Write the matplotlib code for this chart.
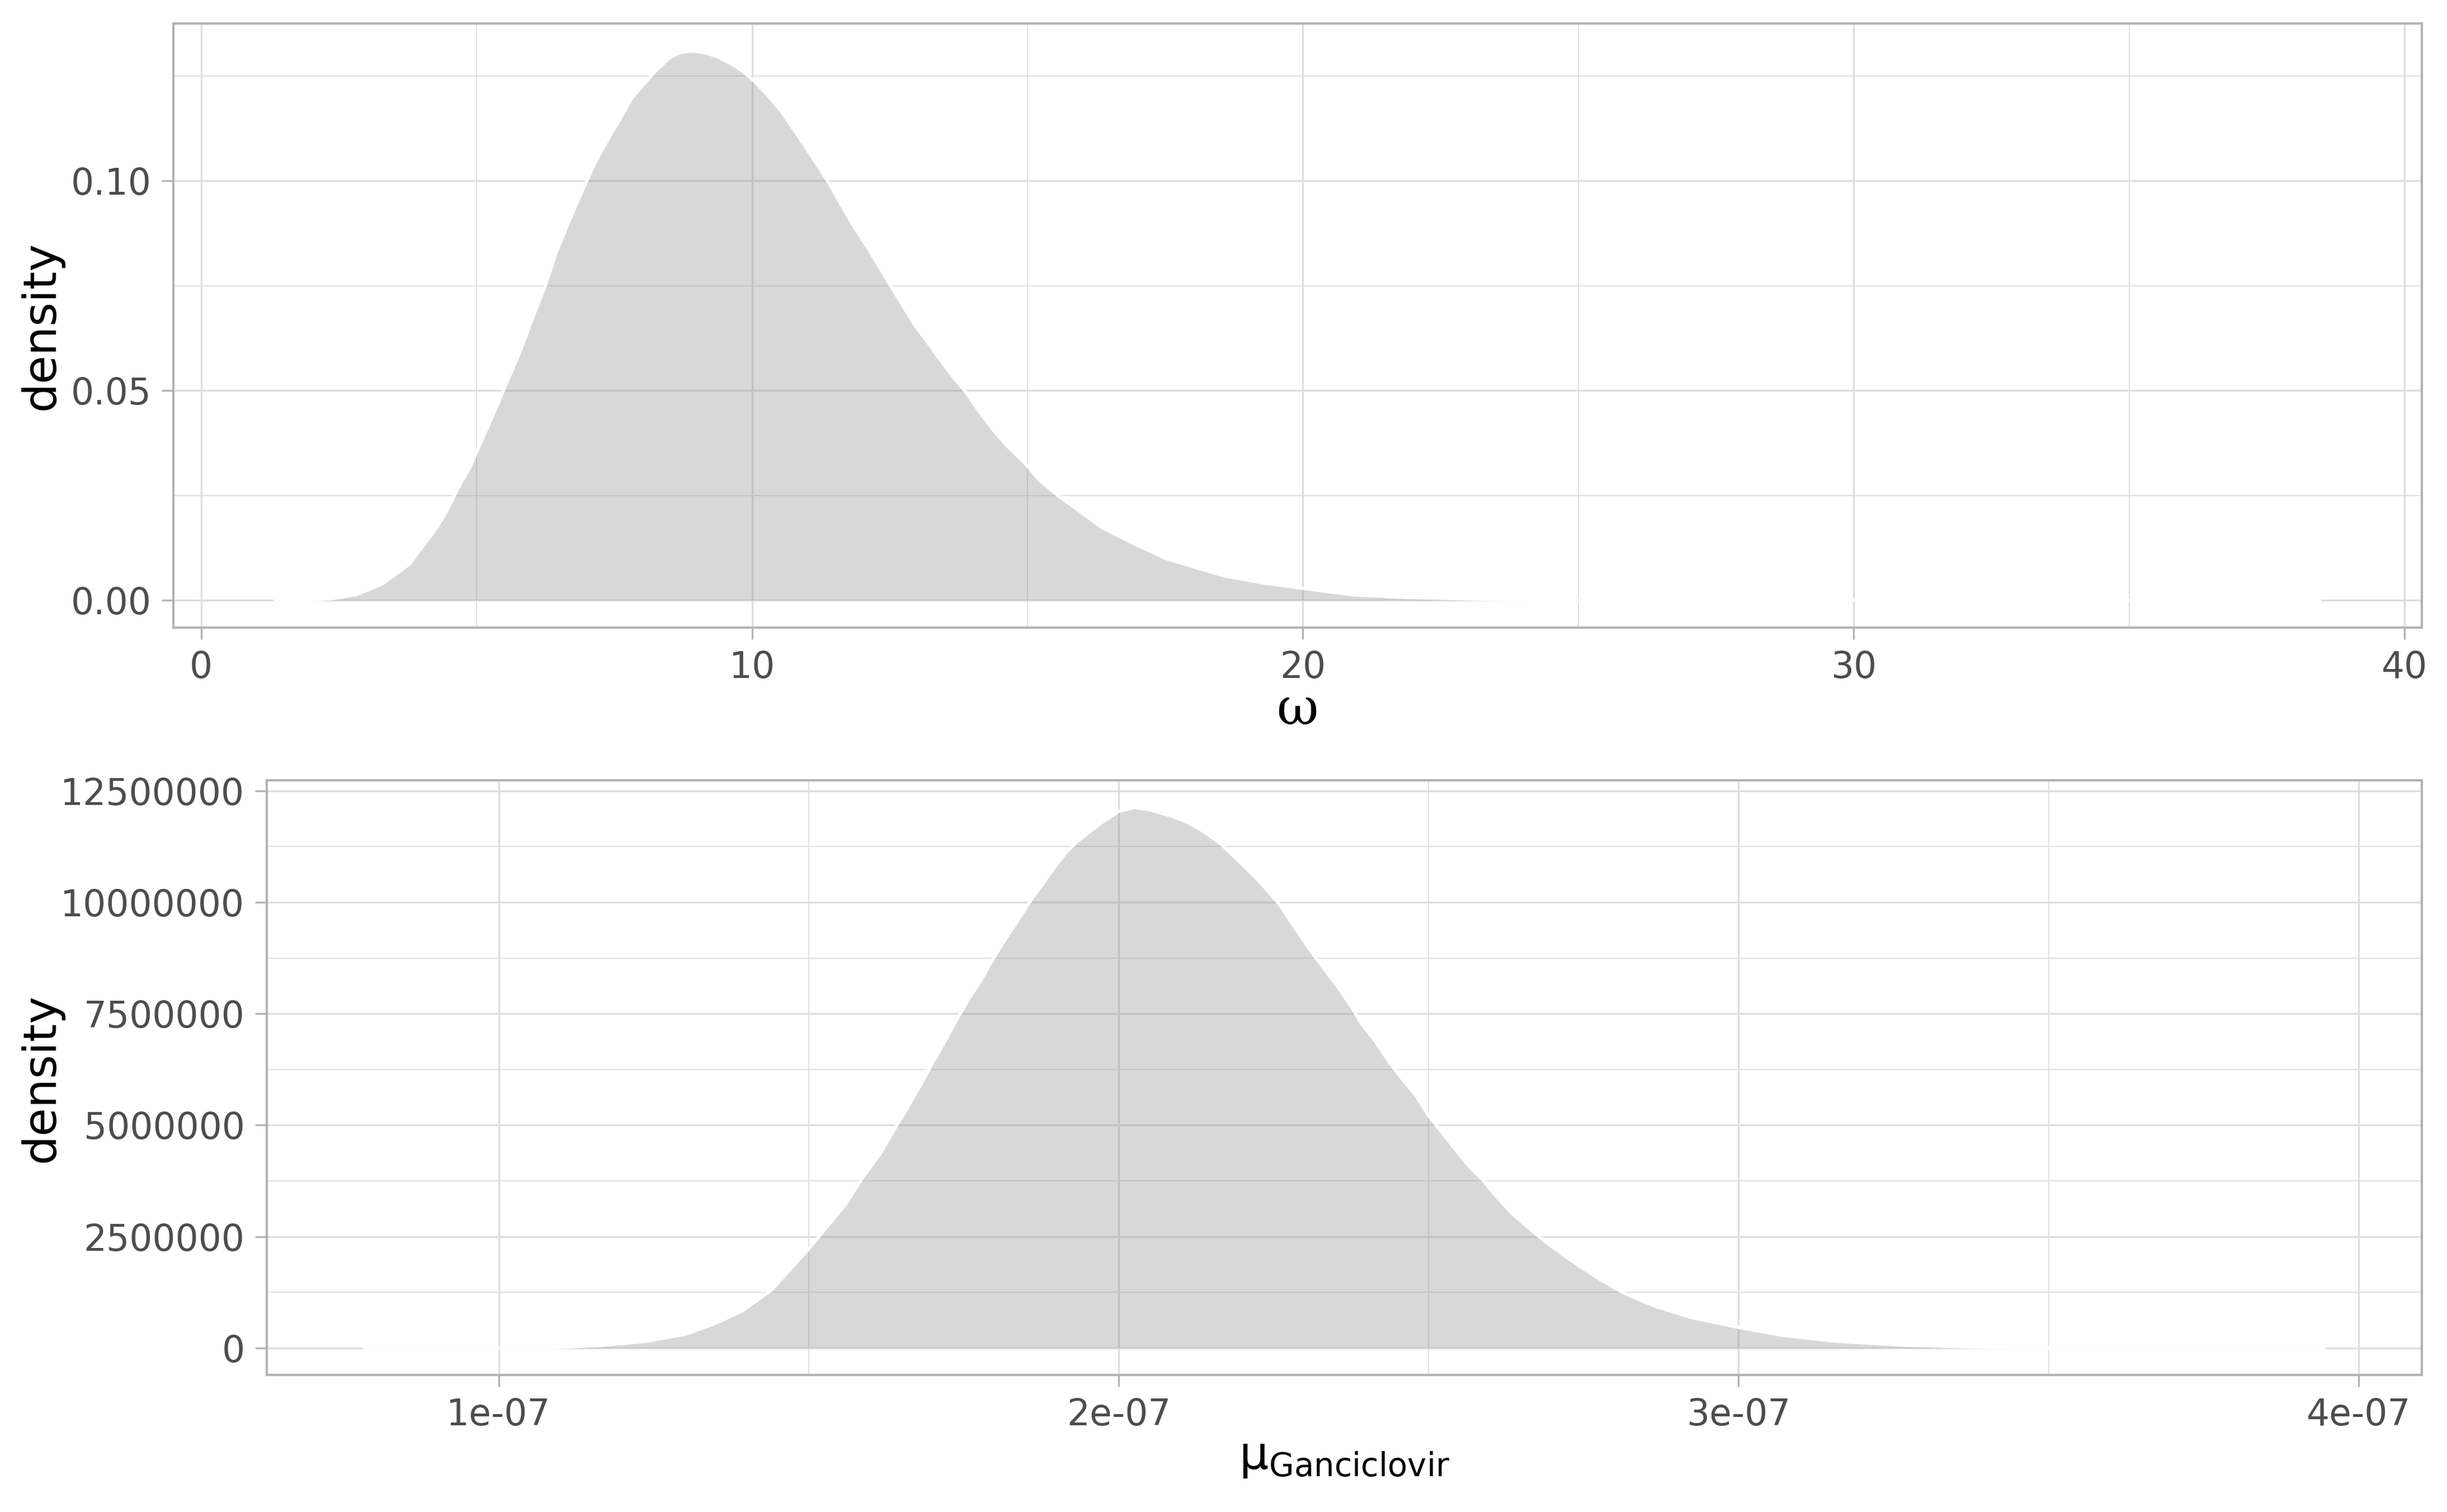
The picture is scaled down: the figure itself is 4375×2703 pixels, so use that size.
import matplotlib
matplotlib.use("Agg")
import matplotlib.pyplot as plt
from matplotlib.ticker import FixedLocator, FuncFormatter

# omega posterior density
omega_x = [1.35, 1.98, 2.4, 2.81, 3.29, 3.78, 4.02, 4.26, 4.46, 4.65, 4.89,
           5.14, 5.33, 5.57, 5.80, 6.01, 6.25, 6.45, 6.67, 6.90, 7.14,
           7.37, 7.61, 7.81, 8.03, 8.24, 8.49, 8.68, 8.92, 9.17, 9.41,
           9.65, 9.84, 10.04, 10.28, 10.52, 10.72, 10.96, 11.17, 11.40, 11.62,
           11.85, 12.08, 12.32, 12.51, 12.73, 12.95, 13.19, 13.39, 13.63, 13.87,
           14.12, 14.36, 14.60, 15.0, 15.21, 15.55, 15.94, 16.33, 16.82, 17.50,
           17.98, 18.56, 19.24, 20.0, 20.89, 21.86, 23.22, 24.2, 38.46]
omega_y = [0, 0, 0.0004, 0.0013, 0.0039, 0.0086, 0.0128, 0.0170, 0.0213, 0.0264, 0.0320,
           0.0395, 0.0451, 0.0526, 0.0596, 0.0671, 0.0751, 0.0831, 0.0901, 0.0971, 0.1041,
           0.1096, 0.1149, 0.1196, 0.1230, 0.1261, 0.1292, 0.1306, 0.1310, 0.1305, 0.1294,
           0.1277, 0.1261, 0.1238, 0.1205, 0.1168, 0.1130, 0.1083, 0.1041, 0.0994, 0.0943,
           0.0891, 0.0845, 0.0793, 0.0751, 0.0704, 0.0657, 0.0615, 0.0578, 0.0536, 0.0498,
           0.0451, 0.0409, 0.0372, 0.0320, 0.0287, 0.0250, 0.0213, 0.0175, 0.0142, 0.0100,
           0.0081, 0.0058, 0.0042, 0.0028, 0.0013, 0.00066, 0.0002, 0, 0]

# mu_Ganciclovir posterior density (x in 1e-7, density in 1e6)
mu_x = [0.784, 1.081, 1.164, 1.237, 1.302, 1.348, 1.394, 1.440, 1.474, 1.500,
        1.534, 1.560, 1.586, 1.616, 1.638, 1.659, 1.681, 1.698, 1.716, 1.737,
        1.759, 1.776, 1.797, 1.819, 1.836, 1.858, 1.879, 1.897, 1.914, 1.933,
        1.953, 1.974, 2.000, 2.026, 2.052, 2.086, 2.112, 2.138, 2.164, 2.194,
        2.220, 2.237, 2.259, 2.276, 2.293, 2.315, 2.336, 2.353, 2.375, 2.392,
        2.414, 2.435, 2.457, 2.478, 2.500, 2.523, 2.545, 2.566, 2.588, 2.609,
        2.635, 2.661, 2.691, 2.726, 2.769, 2.812, 2.864, 2.924, 3.000, 3.071,
        3.157, 3.269, 3.398, 3.467, 3.944]
mu_y = [0, 0, 0.056, 0.146, 0.31, 0.54, 0.84, 1.30, 1.82, 2.22,
        2.79, 3.23, 3.80, 4.37, 4.90, 5.38, 5.91, 6.35, 6.79, 7.32,
        7.85, 8.20, 8.72, 9.21, 9.56, 10.04, 10.44, 10.79, 11.10, 11.36,
        11.58, 11.80, 12.04, 12.13, 12.07, 11.93, 11.79, 11.58, 11.32, 10.92,
        10.57, 10.31, 9.96, 9.60, 9.25, 8.81, 8.42, 8.11, 7.67, 7.27,
        6.88, 6.44, 6.04, 5.69, 5.21, 4.81, 4.42, 4.06, 3.76, 3.40,
        3.01, 2.70, 2.35, 2.00, 1.60, 1.25, 0.94, 0.68, 0.46, 0.28,
        0.15, 0.06, 0.01, 0, 0]
mu_x = [v * 1e-7 for v in mu_x]
mu_y = [v * 1e6 for v in mu_y]

omega_xticks = [0, 10, 20, 30, 40]
omega_xminor = [5, 15, 25, 35]
omega_yticks = [0.0, 0.05, 0.10]
omega_yminor = [0.025, 0.075, 0.125]

mu_xticks = [1e-7, 2e-7, 3e-7, 4e-7]
mu_xminor = [1.5e-7, 2.5e-7, 3.5e-7]
mu_yticks = [0, 2500000, 5000000, 7500000, 10000000, 12500000]
mu_yminor = [1250000, 3750000, 6250000, 8750000, 11250000]

W, H = 4375, 2703
fig = plt.figure(figsize=(W / 300, H / 300), dpi=300)

border = "#B3B3B3"
grid_c = "#DEDEDE"


def style(ax, xt, xm, yt, ym, xfmt, yfmt):
    ax.set_axisbelow(True)
    ax.margins(x=0.05, y=0.05)
    ax.xaxis.set_major_locator(FixedLocator(xt))
    ax.xaxis.set_minor_locator(FixedLocator(xm))
    ax.yaxis.set_major_locator(FixedLocator(yt))
    ax.yaxis.set_minor_locator(FixedLocator(ym))
    ax.xaxis.set_major_formatter(FuncFormatter(xfmt))
    ax.yaxis.set_major_formatter(FuncFormatter(yfmt))
    ax.grid(which="major", color=grid_c, linewidth=0.8)
    ax.grid(which="minor", color=grid_c, linewidth=0.45)
    for s in ax.spines.values():
        s.set_color(border)
        s.set_linewidth(1.0)
    ax.tick_params(which="major", length=5, width=0.8, color=border,
                   labelcolor="#4D4D4D", labelsize=15.5, pad=4.5)
    ax.tick_params(which="minor", length=0)


def density(ax, x, y):
    ax.fill_between(x, 0, y, color="#7F7F7F", alpha=0.3, linewidth=0, zorder=1)
    ax.plot(x, y, color="white", linewidth=1.4, zorder=1.5)


ax1 = fig.add_axes([310 / W, 1 - 1122 / H, (4330 - 310) / W, (1122 - 42) / H])
density(ax1, omega_x, omega_y)
style(ax1, omega_xticks, omega_xminor, omega_yticks, omega_yminor,
      lambda v, p: "%d" % v, lambda v, p: "%.2f" % v)
ax1.set_xlabel("ω", fontsize=22, family="DejaVu Serif", labelpad=0)
ax1.set_ylabel("density", fontsize=19.8)
ax1.yaxis.set_label_coords((114 - 310) / (4330 - 310), 0.5)

ax2 = fig.add_axes([477 / W, 1 - 2458 / H, (4330 - 477) / W, (2458 - 1395) / H])
density(ax2, mu_x, mu_y)
style(ax2, mu_xticks, mu_xminor, mu_yticks, mu_yminor,
      lambda v, p: "%g" % v, lambda v, p: "%d" % round(v))
ax2.set_xlabel(r"$\mathrm{μ}_{\mathrm{Ganciclovir}}$", fontsize=19.8, labelpad=1)
ax2.set_ylabel("density", fontsize=19.8)
ax2.yaxis.set_label_coords((114 - 477) / (4330 - 477), 0.5)

fig.savefig("out.png", dpi=300)
